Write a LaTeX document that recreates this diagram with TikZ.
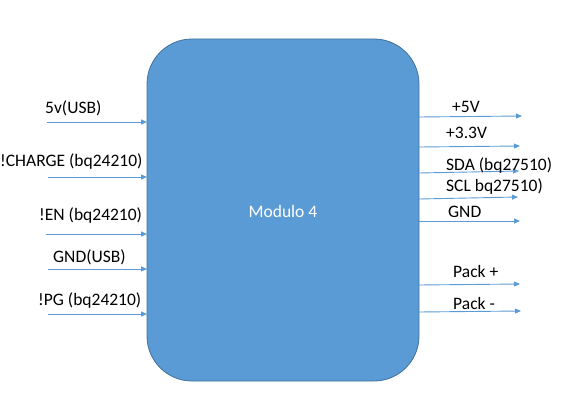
\documentclass[tikz,border=0pt]{standalone}
\usepackage{fontspec}
\setmainfont{Carlito}
\usetikzlibrary{arrows.meta}
\definecolor{boxfill}{HTML}{5B9BD5}
\definecolor{boxline}{HTML}{41719C}
\definecolor{arr}{HTML}{5B9BD5}
\tikzset{
  conn/.style={draw=arr, line width=0.9pt, -{Triangle[length=6pt,width=5pt]}},
  lbl/.style={font=\fontsize{17.5}{20}\selectfont, inner sep=0pt, anchor=west},
  module/.style={draw=boxline, fill=boxfill, line width=0.8pt, rounded corners=45pt}
}
\begin{document}
\begin{tikzpicture}[x=1pt,y=-1pt]
\useasboundingbox (0,0) rectangle (587,420);
\draw[module] (147,39) rectangle (419,381);
\node[font=\fontsize{17.5}{20}\selectfont, text=white] (m) at (283,211) {Modulo 4};
% left inputs
\coordinate (i1) at (47,122); \coordinate (e1) at (147,122);
\coordinate (i2) at (48,177); \coordinate (e2) at (147,177);
\coordinate (i3) at (46,234); \coordinate (e3) at (147,234);
\coordinate (i4) at (48,269); \coordinate (e4) at (147,269);
\coordinate (i5) at (48,314); \coordinate (e5) at (147,314);
\foreach \k in {1,...,5} {\draw[conn] (i\k) -- (e\k);}
\node[lbl] (t1) at (45,108) {5v(USB)};
\node[lbl] (t2) at (0,162) {!CHARGE (bq24210)};
\node[lbl] (t3) at (39,216) {!EN (bq24210)};
\node[lbl] (t4) at (53,257) {GND(USB)};
\node[lbl] (t5) at (38,301) {!PG (bq24210)};
% right outputs
\coordinate (s1) at (419,117); \coordinate (o1) at (522,116);
\coordinate (s2) at (419,147); \coordinate (o2) at (520,146);
\coordinate (s3) at (419,173); \coordinate (o3) at (519,171);
\coordinate (s4) at (419,199); \coordinate (o4) at (518,197);
\coordinate (s5) at (419,221); \coordinate (o5) at (520,221);
\coordinate (s6) at (419,285); \coordinate (o6) at (520,284);
\coordinate (s7) at (419,312); \coordinate (o7) at (521,311);
\foreach \k in {1,...,7} {\draw[conn] (s\k) -- (o\k);}
\node[lbl] (r1) at (452,107) {+5V};
\node[lbl] (r2) at (446,133) {+3.3V};
\node[lbl] (r3) at (446,166) {SDA (bq27510)};
\node[lbl] (r4) at (446,187) {SCL bq27510)};
\node[lbl] (r5) at (448,212) {GND};
\node[lbl] (r6) at (453,271) {Pack +};
\node[lbl] (r7) at (453,303) {Pack -};
\end{tikzpicture}
\end{document}
